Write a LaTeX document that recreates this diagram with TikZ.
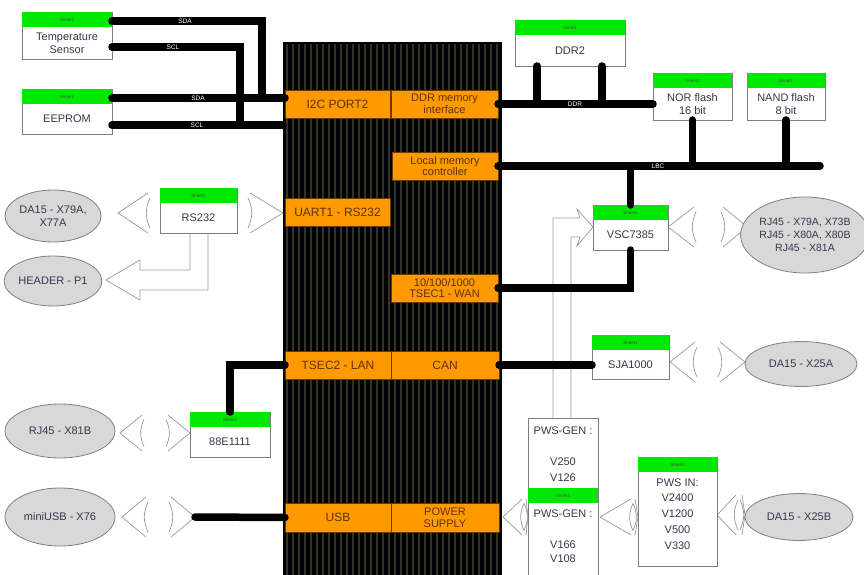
\documentclass[tikz,border=0pt]{standalone}
\usepackage{fontspec}
\setmainfont{Liberation Sans}
\usetikzlibrary{calc,shapes.geometric}
\definecolor{hdgreen}{RGB}{0,232,0}
\definecolor{orng}{RGB}{255,153,0}
\definecolor{stripecol}{RGB}{48,52,36}
\definecolor{ellfill}{RGB}{216,216,216}
\definecolor{txt}{RGB}{55,55,75}
\definecolor{boxline}{RGB}{125,125,125}
\definecolor{coretxt}{RGB}{95,50,0}
\newcommand{\dev}[6]{%
  \node[devbody, minimum width=#4pt, minimum height=#5pt] (#1) at (#2,#3) {};
  \node[devhead, minimum width=#4pt] (#1-h) at (#2,#3) {Sheet1};
  \node[devtext] (#1-t) at ($(#1-h.south)!0.5!(#1.south)$) {#6};
}
\newcommand{\hlink}[5]{%
  \draw[thinl] ($(#1)+(#3,-#5)$) -- (#1) -- ($(#1)+(#3,#5)$);
  \draw[thinl] ($(#2)+(-#4,-#5)$) -- (#2) -- ($(#2)+(-#4,#5)$);
  \draw[thinl] ($(#1)+(#3+2,-0.75*#5)$) to[bend right=25] ($(#1)+(#3+2,0.75*#5)$);
  \draw[thinl] ($(#2)+(-#4-2,-0.75*#5)$) to[bend left=25] ($(#2)+(-#4-2,0.75*#5)$);
}
\begin{document}
\begin{tikzpicture}[x=1pt,y=-1pt,
  every node/.style={inner sep=0pt,outer sep=0pt},
  devbody/.style={draw=boxline,fill=white,line width=0.8pt,anchor=north west},
  devhead/.style={fill=hdgreen,anchor=north west,minimum height=15pt,font=\fontsize{4.5}{5}\selectfont,text=black!70},
  devtext/.style={font=\fontsize{11}{13}\selectfont,text=txt,align=center},
  core/.style={fill=orng,draw=black!60!orng,line width=0.6pt,anchor=north west,font=\fontsize{11}{11.5}\selectfont,text=coretxt,align=center},
  ell/.style={ellipse,draw=gray,fill=ellfill,line width=0.8pt,font=\fontsize{11}{13}\selectfont,text=txt,align=center},
  bus/.style={line width=7.5pt,line cap=round},
  buslabel/.style={font=\fontsize{6.5}{7}\selectfont,text=white},
  thinl/.style={draw=gray!80,line width=0.7pt}]
\useasboundingbox (0,0) rectangle (864,575);
\fill[white] (0,0) rectangle (864,575);

% core block
\node[fill=black,anchor=north west,minimum width=219pt,minimum height=533pt] (cpu) at (283,42) {};
\foreach \x in {287,293,...,499} \draw[stripecol,line width=1.6pt] (\x,44) -- (\x,575);

% thin hollow arrows (drawn first)
\coordinate (pa1) at (553,418);
\coordinate (pa2) at (571,418);
\draw[thinl] (pa1) -- (553,218) -- (580,218) -- (577,209) -- (593,227) -- (577,246) -- (580,237) -- (571,237) -- (pa2);
\coordinate (ra1) at (190,233);
\coordinate (ra2) at (208,233);
\draw[thinl] (ra1) -- (190,270) -- (140,270) -- (140,260) -- (106,280) -- (140,300) -- (140,290) -- (208,290) -- (ra2);

% wide links
\coordinate (c1l) at (118,213); \coordinate (c1r) at (283,213);
\hlink{c1l}{c1r}{30}{33}{20}
\coordinate (c2l) at (668,227); \coordinate (c2r) at (747,227);
\hlink{c2l}{c2r}{26}{24}{20}
\coordinate (c3l) at (670,362); \coordinate (c3r) at (745,362);
\hlink{c3l}{c3r}{25}{25}{20}
\coordinate (c4l) at (120,433); \coordinate (c4r) at (190,433);
\hlink{c4l}{c4r}{22}{22}{18}
\coordinate (c5l) at (122,517); \coordinate (c5r) at (195,517);
\hlink{c5l}{c5r}{24}{24}{20}
\coordinate (c6l) at (503,517); \coordinate (c6r) at (528,517);
\hlink{c6l}{c6r}{19}{2}{18}
\coordinate (c7l) at (600,517); \coordinate (c7r) at (638,517);
\hlink{c7l}{c7r}{31}{3}{18}
\coordinate (c8l) at (717,515); \coordinate (c8r) at (745,515);
\hlink{c8l}{c8r}{19}{3}{20}

% core sub blocks
\node[core,minimum width=105pt,minimum height=28pt] (i2c) at (285,90) {\fontsize{12}{12}\selectfont I2C PORT2};
\node[core,minimum width=107pt,minimum height=28pt] (ddrif) at (391,90) {DDR memory\\interface};
\node[core,minimum width=106pt,minimum height=28pt] (lmc) at (392,152) {Local memory\\controller};
\node[core,minimum width=105pt,minimum height=28pt] (uart) at (285,198) {\fontsize{12}{12}\selectfont UART1 - RS232};
\node[core,minimum width=107pt,minimum height=28pt] (wan) at (391,274) {10/100/1000\\TSEC1 - WAN};
\node[core,minimum width=106pt,minimum height=28pt] (lan) at (285,351) {\fontsize{12}{12}\selectfont TSEC2 - LAN};
\node[core,minimum width=108pt,minimum height=28pt] (can) at (391,351) {\fontsize{12}{12}\selectfont CAN};
\node[core,minimum width=106pt,minimum height=29pt] (usb) at (285,503) {\fontsize{12}{12}\selectfont USB};
\node[core,minimum width=108pt,minimum height=29pt] (pwr) at (391,503) {POWER\\SUPPLY};

% devices
\dev{temp}{22}{12}{90}{47}{Temperature\\Sensor}
\dev{eeprom}{22}{89}{90}{45}{EEPROM}
\dev{ddr2}{515}{20}{110}{46}{DDR2}
\dev{nor}{653}{73}{79}{47}{NOR flash\\16 bit}
\dev{nand}{747}{73}{78}{47}{NAND flash\\8 bit}
\dev{rs232}{160}{188}{77}{45}{RS232}
\dev{vsc}{593}{205}{75}{45}{VSC7385}
\dev{sja}{592}{335}{77}{44}{SJA1000}
\dev{phy}{190}{412}{80}{45}{88E1111}

% power boxes
\node[devbody,minimum width=70pt,minimum height=80pt] (pg1) at (528,418) {};
\node[devtext] (pg1-a) at (563,431) {PWS-GEN :};
\node[devtext] (pg1-b) at (563,462) {V250};
\node[devtext] (pg1-c) at (563,478) {V126};
\node[devbody,minimum width=70pt,minimum height=87pt] (pg2) at (528,488) {};
\node[devhead,minimum width=70pt] (pg2-h) at (528,488) {Sheet1};
\node[devtext] (pg2-a) at (563,514) {PWS-GEN :};
\node[devtext] (pg2-b) at (563,545) {V166};
\node[devtext] (pg2-c) at (563,559) {V108};
\node[devbody,minimum width=79pt,minimum height=109pt] (pwsin) at (638,457) {};
\node[devhead,minimum width=79pt] (pwsin-h) at (638,457) {Sheet1};
\node[devtext,font=\fontsize{11}{15.8}\selectfont] (pwsin-t) at (677.5,514) {PWS IN:\\V2400\\V1200\\V500\\V330};

% ellipses
\node[ell,minimum width=96pt,minimum height=52pt] (da15a) at (53,216) {DA15 - X79A,\\X77A};
\node[ell,minimum width=96pt,minimum height=50pt] (hdr) at (53,281) {HEADER - P1};
\node[ell,minimum width=116pt,minimum height=76pt,font=\fontsize{10.5}{13}\selectfont] (rj45a) at (805,235) {RJ45 - X79A, X73B\\RJ45 - X80A, X80B\\RJ45 - X81A};
\node[ell,minimum width=112pt,minimum height=45pt] (x25a) at (801,364) {DA15 - X25A};
\node[ell,minimum width=110pt,minimum height=54pt] (x81b) at (60,431) {RJ45 - X81B};
\node[ell,minimum width=110pt,minimum height=58pt] (musb) at (60,517) {miniUSB - X76};
\node[ell,minimum width=108pt,minimum height=47pt] (x25b) at (799,517) {DA15 - X25B};

% thick buses
\draw[bus] ($(temp.north east)+(0,9)$) -| (262,98);
\draw[bus] ($(temp.north east)+(0,35)$) -| (240,125);
\draw[bus] ($(eeprom.north east)+(0,9)$) -- (i2c.west |- 0,98);
\draw[bus] ($(eeprom.north east)+(0,36)$) -- (cpu.west |- 0,125);
\node[buslabel] (l1) at (185,21) {SDA};
\node[buslabel] (l2) at (173,47) {SCL};
\node[buslabel] (l3) at (198,98) {SDA};
\node[buslabel] (l4) at (197,125) {SCL};

\draw[bus] (ddrif.east) -- (ddrif.east -| nor.west);
\draw[bus] ($(ddr2.south west)+(22,0)$) -- ($(ddr2.south west)+(22,37)$);
\draw[bus] ($(ddr2.south west)+(87,0)$) -- ($(ddr2.south west)+(87,37)$);
\node[buslabel] (l5) at (575,104) {DDR};

\coordinate (lbcend) at (820,166);
\draw[bus] (lmc.east) -- (lbcend);
\draw[bus] (nor.south) -- (nor.south |- lmc.east);
\draw[bus] (nand.south) -- (nand.south |- lmc.east);
\draw[bus] (vsc.north) -- (vsc.north |- lmc.east);
\node[buslabel] (l6) at (658,166) {LBC};

\draw[bus] (wan.east) -| (vsc.south);
\draw[bus] (can.east) -- (can.east -| sja.west);
\draw[bus] (lan.west) -| (phy.north);
\draw[bus] (c5r) -- (usb.west);
\end{tikzpicture}
\end{document}
